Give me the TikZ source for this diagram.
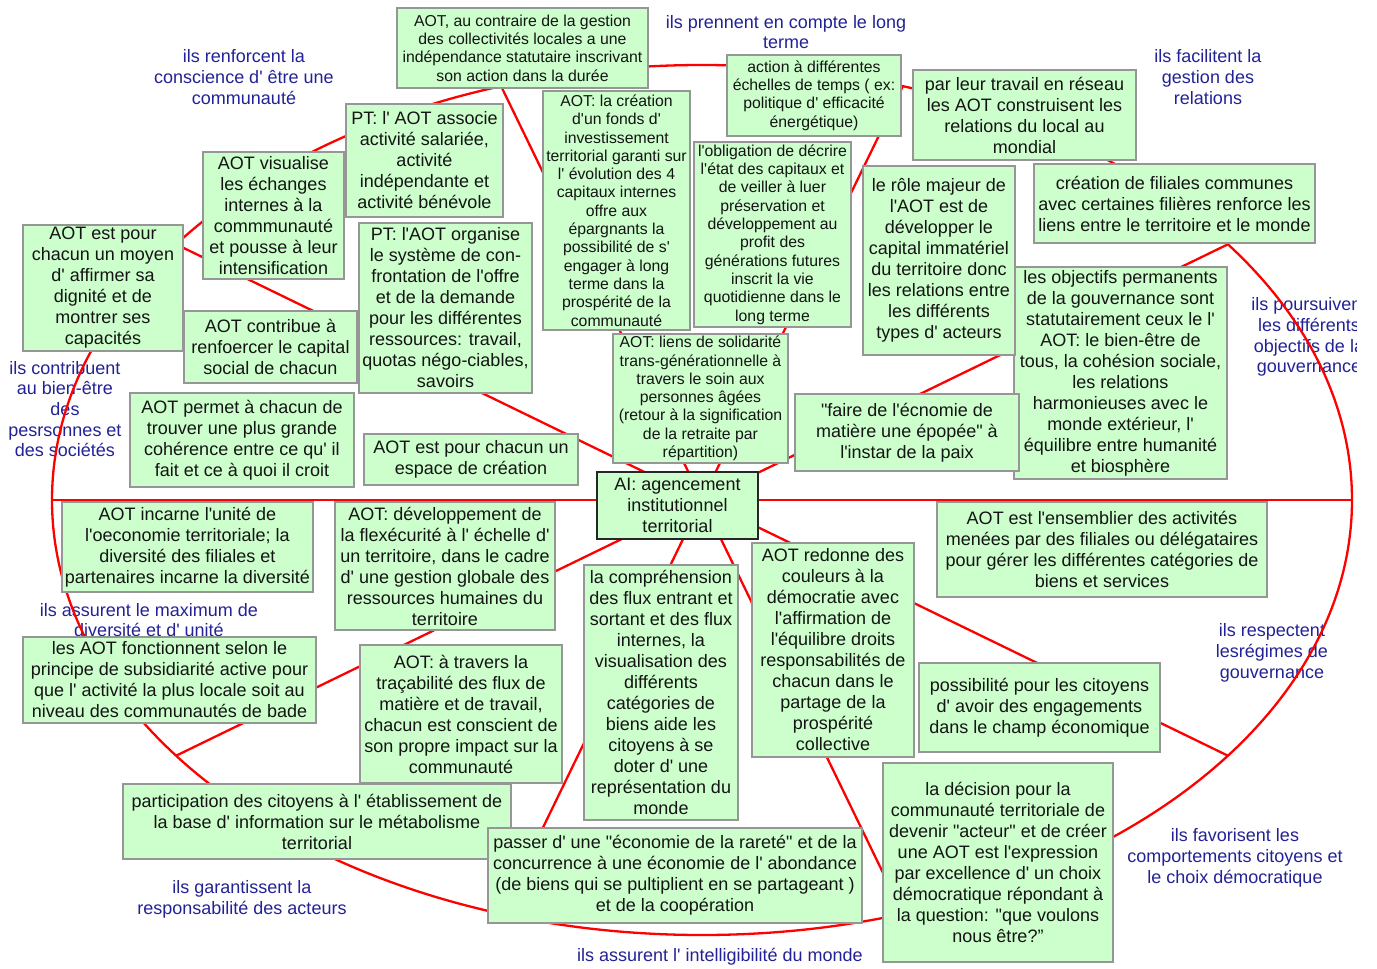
\documentclass[tikz,border=0pt]{standalone}
\usepackage{fontspec}
\setmainfont{Liberation Sans}
\newfontfamily\lsans{Liberation Sans}
\usetikzlibrary{calc}
\definecolor{boxfill}{RGB}{204,255,204}
\definecolor{boxline}{RGB}{150,150,150}
\definecolor{linkred}{RGB}{255,0,0}
\definecolor{labblue}{RGB}{34,34,150}
\definecolor{boxtext}{RGB}{20,20,20}
\tikzset{
  box/.style={draw=boxline, fill=boxfill, line width=0.8pt, align=center, inner sep=0.5pt, text=boxtext, font=\lsans\fontsize{9}{10.5}\selectfont},
  sbox/.style={box, font=\lsans\fontsize{7.9}{9.15}\selectfont},
  aibox/.style={box, draw=black!85},
  lab/.style={align=center, text=labblue, inner sep=0pt, font=\lsans\fontsize{9}{10.35}\selectfont},
  link/.style={draw=linkred, line width=1.15pt},
  bx/.style n args={4}{at={(0.5*#1+0.5*#3,0.5*#2+0.5*#4)}, minimum width={(#3-#1)*0.5pt}, minimum height={(#4-#2)*0.5pt}},
}
\begin{document}
\begin{tikzpicture}[x=0.5pt,y=-0.5pt]
\useasboundingbox (0,0) rectangle (1377,969);

% blue labels of the sectors
\node[lab] (l1) at (244,77) {ils renforcent la\\conscience d' être une\\communauté};
\node[lab] (l2) at (786,32) {ils prennent en compte le long\\terme};
\node[lab] (l3) at (1208,77) {ils facilitent la\\gestion des\\relations};
\begin{scope}
  \clip (1230,285) rectangle (1356,390);
  \node[lab] (l4) at (1309,337) {ils poursuivent\\les différents\\objectifs de la\\gouvernance};
\end{scope}
\node[lab] (l5) at (1272,653) {ils respectent\\lesrégimes de\\gouvernance};
\node[lab] (l6) at (1235,858) {ils favorisent les\\comportements citoyens et\\le choix démocratique};
\node[lab] (l7) at (720,957) {ils assurent l' intelligibilité du monde};
\node[lab] (l8) at (242,899) {ils garantissent la\\responsabilité des acteurs};
\node[lab] (l9) at (149,620) {ils assurent le maximum de\\diversité et d' unité};
\node[lab] (l10) at (65,409) {ils contribuent\\au bien-être\\des\\pesrsonnes et\\des sociétés};

% wheel: rim and spokes
\coordinate (C) at (702,500);
\draw[link] (C) ellipse [x radius=325pt, y radius=217.5pt];
\foreach \a/\n in {0/p0,36/p1,72/p2,108/p3,144/p4,180/p5,216/p6,252/p7,288/p8,324/p9}
  \coordinate (\n) at ($(C)+(\a:325pt and 217.5pt)$);
\foreach \n in {p0,p1,p2,p3,p4,p5,p6,p7,p8,p9}
  \draw[link] (C) -- (\n);

% boxes
\node[box, bx={1014}{267}{1227}{479}] (objectifs) {les objectifs permanents\\de la gouvernance sont\\statutairement ceux le l'\\AOT: le bien-être de\\tous, la cohésion sociale,\\les relations\\harmonieuses avec le\\monde extérieur, l'\\équilibre entre humanité\\et biosphère};
\node[sbox, bx={397}{8}{648}{88}] (contraire) {AOT, au contraire de la gestion\\des collectivités locales a une\\indépendance statutaire inscrivant\\son action dans la durée};
\node[sbox, bx={727}{55}{901}{136}] (action) {action à différentes\\échelles de temps ( ex:\\politique d' efficacité\\énergétique)};
\node[box, bx={913}{70}{1136}{160}] (travail) {par leur travail en réseau\\les AOT construisent les\\relations du local au\\mondial};
\node[box, bx={1034}{164}{1315}{243}] (filiales) {création de filiales communes\\avec certaines filières renforce les\\liens entre le territoire et le monde};
\node[box, bx={346}{104}{503}{217}] (associe) {PT: l' AOT associe\\activité salariée,\\activité\\indépendante et\\activité bénévole};
\node[sbox, bx={543}{91}{690}{330}] (fonds) {AOT: la création\\d'un fonds d'\\investissement\\territorial garanti sur\\l' évolution des 4\\capitaux internes\\offre aux\\épargnants la\\possibilité de s'\\engager à long\\terme dans la\\prospérité de la\\communauté};
\node[sbox, bx={694}{142}{851}{327}] (obligation) {l'obligation de décrire\\l'état des capitaux et\\de veiller à luer\\préservation et\\développement au\\profit des\\générations futures\\inscrit la vie\\quotidienne dans le\\long terme};
\node[box, bx={863}{166}{1015}{355}] (role) {le rôle majeur de\\l'AOT est de\\développer le\\capital immatériel\\du territoire donc\\les relations entre\\les différents\\types d' acteurs};
\node[box, bx={203}{152}{344}{279}] (visualise) {AOT visualise\\les échanges\\internes à la\\commmunauté\\et pousse à leur\\intensification};
\node[box, bx={23}{225}{183}{351}] (moyen) {AOT est pour\\chacun un moyen\\d' affirmer sa\\dignité et de\\montrer ses\\capacités};
\node[box, bx={359}{223}{532}{393}] (organise) {PT: l'AOT organise\\le système de con-\\frontation de l'offre\\et de la demande\\pour les différentes\\ressources: travail,\\quotas négo-ciables,\\savoirs};
\node[box, bx={184}{311}{357}{383}] (contribue) {AOT contribue à\\renfoercer le capital\\social de chacun};
\node[box, bx={130}{393}{354}{487}] (permet) {AOT permet à chacun de\\trouver une plus grande\\cohérence entre ce qu' il\\fait et ce à quoi il croit};
\node[box, bx={364}{434}{578}{485}] (espace) {AOT est pour chacun un\\espace de création};
\node[sbox, bx={613}{334}{788}{463}] (solidarite) {AOT: liens de solidarité\\trans-générationnelle à\\travers le soin aux\\personnes âgées\\(retour à la signification\\de la retraite par\\répartition)};
\node[box, bx={795}{394}{1019}{471}] (faire) {"faire de l'écnomie de\\matière une épopée" à\\l'instar de la paix};
\node[aibox, bx={597}{472}{758}{539}] (AI) {AI: agencement\\institutionnel\\territorial};
\node[box, bx={62}{502}{313}{592}] (incarne) {AOT incarne l'unité de\\l'oeconomie territoriale; la\\diversité des filiales et\\partenaires incarne la diversité};
\node[box, bx={335}{502}{555}{630}] (flex) {AOT: développement de\\la flexécurité à l' échelle d'\\un territoire, dans le cadre\\d' une gestion globale des\\ressources humaines du\\territoire};
\node[box, bx={937}{502}{1267}{597}] (ensemblier) {AOT est l'ensemblier des activités\\menées par des filiales ou délégataires\\pour gérer les différentes catégories de\\biens et services};
\node[box, bx={584}{565}{738}{820}] (comprehension) {la compréhension\\des flux entrant et\\sortant et des flux\\internes, la\\visualisation des\\différents\\catégories de\\biens aide les\\citoyens à se\\doter d' une\\représentation du\\monde};
\node[box, bx={752}{543}{914}{757}] (redonne) {AOT redonne des\\couleurs à la\\démocratie avec\\l'affirmation de\\l'équilibre droits\\responsabilités de\\chacun dans le\\partage de la\\prospérité\\collective};
\node[box, bx={23}{637}{316}{723}] (subsidiarite) {les AOT fonctionnent selon le\\principe de subsidiarité active pour\\que l' activité la plus locale soit au\\niveau des communautés de bade};
\node[box, bx={360}{645}{562}{783}] (tracabilite) {AOT: à travers la\\traçabilité des flux de\\matière et de travail,\\chacun est conscient de\\son propre impact sur la\\communauté};
\node[box, bx={919}{663}{1160}{752}] (possibilite) {possibilité pour les citoyens\\d' avoir des engagements\\dans le champ économique};
\node[box, bx={123}{784}{511}{859}] (participation) {participation des citoyens à l' établissement de\\la base d' information sur le métabolisme\\territorial};
\node[box, bx={488}{828}{862}{923}] (passer) {passer d' une "économie de la rareté" et de la\\concurrence à une économie de l' abondance\\(de biens qui se pultiplient en se partageant )\\et de la coopération};
\node[box, bx={883}{763}{1113}{962}] (decision) {la décision pour la\\communauté territoriale de\\devenir "acteur" et de créer\\une AOT est l'expression\\par excellence d' un choix\\démocratique répondant à\\la question: "que voulons\\nous être?”};
\end{tikzpicture}
\end{document}
